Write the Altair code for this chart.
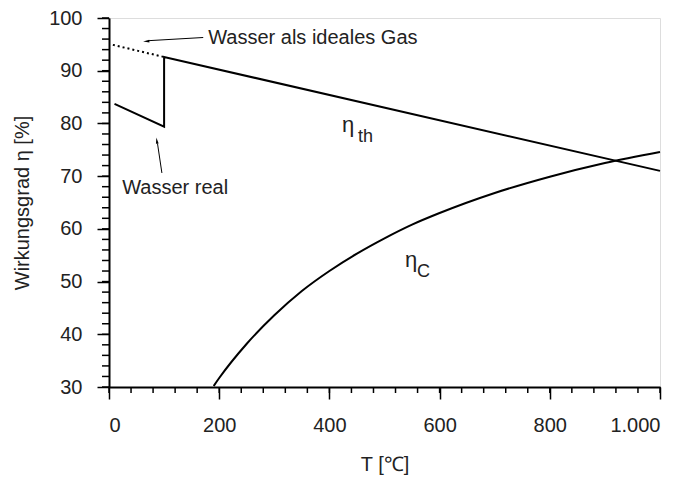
import altair as alt
import pandas as pd

# ---- data ----
# thermal efficiency, real water (T in °C, eta in %)
real_T = [10, 100, 100, 1000]
real_eta = [83.7, 79.4, 92.6, 71.0]
# ideal gas branch (dotted)
ideal_T = [7, 100]
ideal_eta = [94.9, 92.6]
# Carnot efficiency
carnot_T = [190, 200, 250, 300, 350, 400, 450, 500, 550, 600, 700, 800, 900, 1000]
carnot_eta = [30.2, 31.7, 38.2, 43.6, 48.2, 52.0, 55.3, 58.2, 60.8, 63.0, 66.8, 69.9, 72.5, 74.6]

x_major = [0, 200, 400, 600, 800, 1000]
x_minor = [t for t in range(0, 1001, 40)]
y_major = [30, 40, 50, 60, 70, 80, 90, 100]
y_minor = [v for v in range(30, 101, 2)]

FONT = "Liberation Sans"
W, H = 551, 369

xs = alt.Scale(domain=[0, 1000], nice=False, zero=False)
ys = alt.Scale(domain=[30, 100], nice=False, zero=False)

real_df = pd.DataFrame({"T": real_T, "eta": real_eta, "o": range(len(real_T))})
ideal_df = pd.DataFrame({"T": ideal_T, "eta": ideal_eta, "o": range(len(ideal_T))})
carnot_df = pd.DataFrame({"T": carnot_T, "eta": carnot_eta})

xaxis = alt.Axis(values=x_major, title="T [℃]", labelExpr="datum.value == 1000 ? '1.000' : datum.label",
                 tickSize=12, tickWidth=1.5, tickColor="black", domainColor="black", domainWidth=2,
                 labelFontSize=20, labelFont=FONT, labelColor="#222", labelPadding=16,
                 titleFontSize=20, titleFont=FONT, titleFontWeight="normal", titleColor="#222",
                 titlePadding=19, grid=False)
yaxis = alt.Axis(values=y_major, title="Wirkungsgrad η [%]",
                 tickSize=12, tickWidth=1.5, tickColor="black", domainColor="black", domainWidth=2,
                 labelFontSize=20, labelFont=FONT, labelColor="#222", labelPadding=15,
                 titleFontSize=20, titleFont=FONT, titleFontWeight="normal", titleColor="#222",
                 titlePadding=16, grid=False)

real = alt.Chart(real_df).mark_line(color="black", strokeWidth=2).encode(
    x=alt.X("T:Q", scale=xs, axis=xaxis),
    y=alt.Y("eta:Q", scale=ys, axis=yaxis),
    order="o:Q",
)
ideal = alt.Chart(ideal_df).mark_line(color="black", strokeWidth=2, strokeDash=[2, 3]).encode(
    x=alt.X("T:Q", scale=xs), y=alt.Y("eta:Q", scale=ys), order="o:Q"
)
carnot = alt.Chart(carnot_df).mark_line(color="black", strokeWidth=2, interpolate="monotone").encode(
    x=alt.X("T:Q", scale=xs), y=alt.Y("eta:Q", scale=ys)
)

# minor ticks
xminor = alt.Chart(pd.DataFrame({"T": x_minor})).mark_rule(color="black", strokeWidth=1.5).encode(
    x=alt.X("T:Q", scale=xs), y=alt.value(H), y2=alt.value(H + 6)
)
yminor = alt.Chart(pd.DataFrame({"v": y_minor})).mark_rule(color="black", strokeWidth=1.5).encode(
    y=alt.Y("v:Q", scale=ys), x=alt.value(0), x2=alt.value(-7)
)

# annotations
texts = pd.DataFrame({
    "T": [180, 24],
    "eta": [96.3, 67.7],
    "label": ["Wasser als ideales Gas", "Wasser real"],
})
ann_text = alt.Chart(texts).mark_text(align="left", baseline="middle", fontSize=20, font=FONT, color="#222").encode(
    x=alt.X("T:Q", scale=xs), y=alt.Y("eta:Q", scale=ys), text="label:N"
)

arrows = pd.DataFrame({
    "T": [171, 96], "eta": [96.3, 70.6],
    "T2": [72, 88], "eta2": [95.7, 76.2],
})
arrow_lines = alt.Chart(arrows).mark_rule(color="black", strokeWidth=1).encode(
    x=alt.X("T:Q", scale=xs), y=alt.Y("eta:Q", scale=ys), x2="T2:Q", y2="eta2:Q"
)
heads = pd.DataFrame({"T": [69, 87], "eta": [95.6, 76.6], "ang": [266, 351]})
arrow_heads = alt.Chart(heads).mark_point(
    shape="M0,-1L0.35,0.6L-0.35,0.6Z", filled=True, color="black", opacity=1, size=60
).encode(x=alt.X("T:Q", scale=xs), y=alt.Y("eta:Q", scale=ys), angle=alt.Angle("ang:Q", scale=None))

eta_df = pd.DataFrame({"T": [423, 537], "eta": [78.4, 52.7]})
eta_main = alt.Chart(eta_df).mark_text(align="left", baseline="alphabetic", fontSize=22, font=FONT, color="#222").encode(
    x=alt.X("T:Q", scale=xs), y=alt.Y("eta:Q", scale=ys), text=alt.value("η")
)
sub_df = pd.DataFrame({"T": [452, 559], "eta": [76.5, 50.9], "s": ["th", "C"]})
eta_sub = alt.Chart(sub_df).mark_text(align="left", baseline="alphabetic", fontSize=18, font=FONT, color="#222").encode(
    x=alt.X("T:Q", scale=xs), y=alt.Y("eta:Q", scale=ys), text="s:N"
)

chart = alt.layer(
    xminor, yminor, real, ideal, carnot, arrow_lines, arrow_heads, ann_text, eta_main, eta_sub
).properties(
    width=W, height=H,
    padding={"left": 109, "top": 18, "right": 27, "bottom": 90},
    autosize=alt.AutoSizeParams(type="none"),
).configure_view(stroke="black", strokeWidth=2).configure(background="white")

chart.save("out.html", embed_options={"renderer": "svg", "actions": False})
